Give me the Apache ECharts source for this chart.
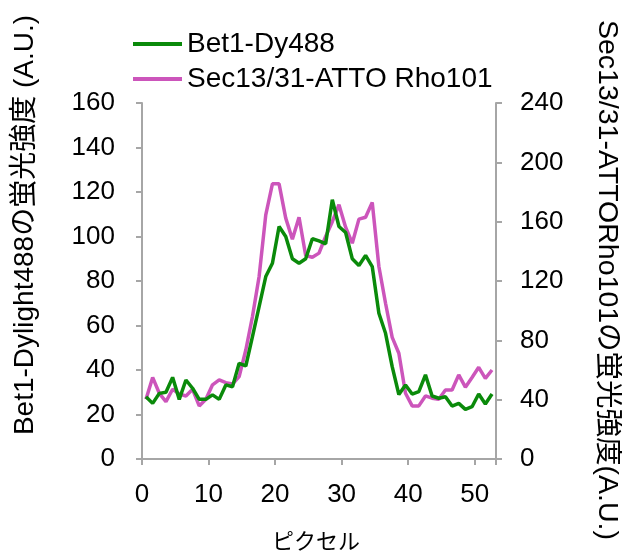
<!DOCTYPE html>
<html>
<head>
<meta charset="utf-8">
<script src="https://cdn.jsdelivr.net/npm/echarts@6/dist/echarts.min.js"></script>
<style>html,body{margin:0;padding:0;background:#fff}#c{width:622px;height:557px}</style>
</head>
<body>
<div id="c"></div>
<script>
const pixels = [0.6,1.6,2.6,3.6,4.6,5.6,6.6,7.6,8.6,9.6,10.6,11.6,12.6,13.6,14.6,15.6,16.6,17.6,18.6,19.6,20.6,21.6,22.6,23.6,24.6,25.6,26.6,27.6,28.6,29.6,30.6,31.6,32.6,33.6,34.6,35.6,36.6,37.6,38.6,39.6,40.6,41.6,42.6,43.6,44.6,45.6,46.6,47.6,48.6,49.6,50.6,51.6,52.6];
const bet1 = [28,25,29.5,30,36.7,26.8,35.5,31.8,26.8,26.8,28.8,26.8,33.3,32.5,43,41.8,55,68.5,82,88,104.5,100,90,88,90,99,98,96.7,116.5,104.5,101.8,90,87,91.5,86.5,65.5,56.5,41.5,29,33.3,29.2,30.3,37.8,28.3,27.3,28,23.8,25,22.3,23.5,29.2,24.7,29.2];
const sec13 = [40.3,55,44.3,38.7,47,43.9,42.5,47,35.8,40.3,50,53.3,51.5,50.6,55.5,73.5,96,123,164.6,185.5,185.5,162.4,148.2,163,137.2,136,138.8,150,160,171.4,156.3,145.5,161.7,163,173,129.8,105,82,71.3,44.3,35.8,35.8,42.5,41,40.3,46.5,46.5,56.7,48.4,55,61.8,54.4,60];
const seriesNames = ['Bet1-Dy488','Sec13/31-ATTO Rho101'];
const leftTicks = [0,20,40,60,80,100,120,140,160];
const rightTicks = [0,40,80,120,160,200,240];
const xTicks = [0,10,20,30,40,50];

const font = '"Liberation Sans", Arial, "Noto Sans CJK JP", sans-serif';
const axisColor = '#a6a6a6';
const chart = echarts.init(document.getElementById('c'), null, {renderer:'canvas'});
const pairs = (ys) => ys.map((v,i)=>[pixels[i], v]);
const axisCommon = {
  axisLine:{show:true, lineStyle:{color:axisColor, width:2}},
  axisTick:{show:true, inside:false, length:6, lineStyle:{color:axisColor, width:2}},
  splitLine:{show:false},
};
chart.setOption({
  animation:false,
  backgroundColor:'#fff',
  grid:{left:142, right:126, top:103, bottom:98, containLabel:false},
  legend:{
    orient:'vertical', left:128, top:25, itemWidth:49, itemHeight:4, itemGap:7,
    icon:'rect',
    textStyle:{fontFamily:font, fontSize:28, color:'#000'},
    data:seriesNames
  },
  xAxis:{
    type:'value', min:0, max:53.2, interval:10,
    ...axisCommon,
    axisLabel:{fontFamily:font, fontSize:26, color:'#000', margin:23,
      formatter:(v)=> xTicks.includes(v) ? String(v) : ''},
  },
  yAxis:[
    {type:'value', min:0, max:160, interval:20, position:'left', ...axisCommon,
      axisLabel:{fontFamily:font, fontSize:26, color:'#000', margin:27,
        formatter:(v)=> leftTicks.includes(v) ? String(v) : ''}},
    {type:'value', min:0, max:240, interval:40, position:'right', ...axisCommon,
      axisLabel:{fontFamily:font, fontSize:26, color:'#000', margin:24,
        formatter:(v)=> rightTicks.includes(v) ? String(v) : ''}}
  ],
  graphic:[
    {type:'text', x:25, y:225, rotation:Math.PI/2,
      style:{text:'Bet1-Dylight488の蛍光強度 (A.U.)', font:'28px '+font, fill:'#000', align:'center', verticalAlign:'middle'}},
    {type:'text', x:607, y:280, rotation:-Math.PI/2,
      style:{text:'Sec13/31-ATTORho101の蛍光強度(A.U.)', font:'28.5px '+font, fill:'#000', align:'center', verticalAlign:'middle'}},
    {type:'text', x:316, y:543,
      style:{text:'ピクセル', font:'22px '+font, fill:'#000', align:'center', verticalAlign:'middle'}}
  ],
  series:[
    {name:seriesNames[0], type:'line', yAxisIndex:0, data:pairs(bet1), showSymbol:false, symbol:'none',
      lineStyle:{color:'#0a8a0a', width:3.5}, itemStyle:{color:'#0a8a0a'}, z:3},
    {name:seriesNames[1], type:'line', yAxisIndex:1, data:pairs(sec13), showSymbol:false, symbol:'none',
      lineStyle:{color:'#cc55bb', width:3.5}, itemStyle:{color:'#cc55bb'}, z:2}
  ]
});
</script>
</body>
</html>
